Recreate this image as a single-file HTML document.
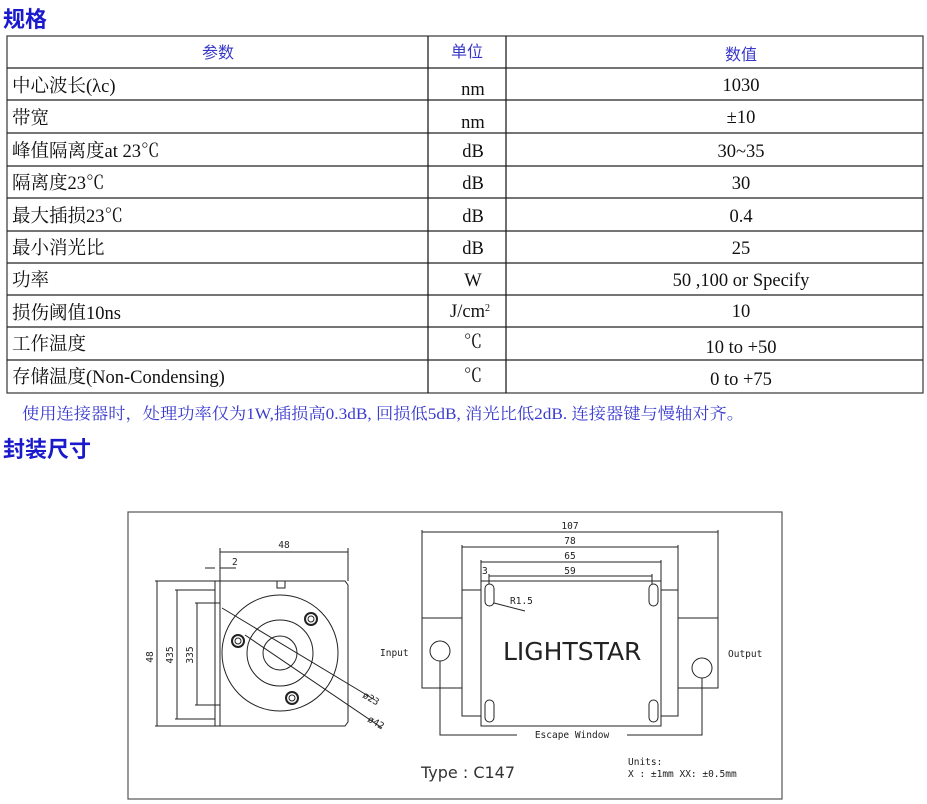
<!DOCTYPE html>
<html><head><meta charset="utf-8"><style>
html,body{margin:0;padding:0;background:#fff;}
svg{display:block;}
.s{font-family:"Liberation Serif","Noto Serif CJK SC",serif;font-size:18.5px;fill:#111;}
.h{font-family:"Liberation Serif","Noto Sans CJK SC",serif;font-size:16px;fill:#3838c8;}
.t{font-family:"Liberation Sans","Noto Sans CJK SC",sans-serif;font-size:22px;font-weight:bold;fill:#1a1acc;}
.d{font-family:"DejaVu Sans Mono","Liberation Mono",monospace;font-size:9.5px;fill:#222;}
</style></head><body>
<svg width="927" height="804" viewBox="0 0 927 804" xmlns="http://www.w3.org/2000/svg">
<text class="t" x="3" y="27">规格</text>
<g stroke="#222" stroke-width="1.3" fill="none">
<rect x="7" y="36" width="916" height="357" stroke="#444"/>
<line x1="428" y1="36" x2="428" y2="393"/>
<line x1="506" y1="36" x2="506" y2="393"/>
<line x1="7" y1="68" x2="923" y2="68"/><line x1="7" y1="100" x2="923" y2="100"/>
<line x1="7" y1="133" x2="923" y2="133"/><line x1="7" y1="166" x2="923" y2="166"/>
<line x1="7" y1="198" x2="923" y2="198"/><line x1="7" y1="231" x2="923" y2="231"/>
<line x1="7" y1="263" x2="923" y2="263"/><line x1="7" y1="295" x2="923" y2="295"/>
<line x1="7" y1="327" x2="923" y2="327"/><line x1="7" y1="360" x2="923" y2="360"/>
</g>
<text class="h" x="218" y="58" text-anchor="middle">参数</text>
<text class="h" x="467" y="57" text-anchor="middle">单位</text>
<text class="h" x="741" y="60" text-anchor="middle">数值</text>
<g class="s">
<text x="12" y="92">中心波长(λc)</text><text x="473" y="95" text-anchor="middle">nm</text><text x="741" y="91" text-anchor="middle">1030</text>
<text x="12" y="124">带宽</text><text x="473" y="128" text-anchor="middle">nm</text><text x="741" y="123" text-anchor="middle">±10</text>
<text x="12" y="157">峰值隔离度at 23℃</text><text x="473" y="157" text-anchor="middle">dB</text><text x="741" y="157" text-anchor="middle">30~35</text>
<text x="12" y="189">隔离度23℃</text><text x="473" y="189" text-anchor="middle">dB</text><text x="741" y="189" text-anchor="middle">30</text>
<text x="12" y="222">最大插损23℃</text><text x="473" y="222" text-anchor="middle">dB</text><text x="741" y="222" text-anchor="middle">0.4</text>
<text x="12" y="254">最小消光比</text><text x="473" y="254" text-anchor="middle">dB</text><text x="741" y="254" text-anchor="middle">25</text>
<text x="12" y="286">功率</text><text x="473" y="286" text-anchor="middle">W</text><text x="741" y="286" text-anchor="middle">50 ,100 or Specify</text>
<text x="12" y="319">损伤阈值10ns</text><text x="470" y="317" text-anchor="middle">J/cm<tspan font-size="10" dy="-6">2</tspan></text><text x="741" y="317" text-anchor="middle">10</text>
<text x="12" y="350">工作温度</text><text x="473" y="348" text-anchor="middle">℃</text><text x="741" y="353" text-anchor="middle">10 to +50</text>
<text x="12" y="383">存储温度(Non-Condensing)</text><text x="473" y="382" text-anchor="middle">℃</text><text x="741" y="385" text-anchor="middle">0 to +75</text>
</g>
<text x="22" y="419" textLength="722" lengthAdjust="spacingAndGlyphs" style="font-family:'Liberation Serif','Noto Serif CJK SC',serif;font-size:16px;fill:#3a3ad0">使用连接器时，处理功率仅为1W,插损高0.3dB, 回损低5dB, 消光比低2dB. 连接器键与慢轴对齐。</text>
<text class="t" x="3" y="457">封装尺寸</text>

<rect x="128" y="512" width="654" height="287" fill="none" stroke="#555" stroke-width="1.2"/>
<g stroke="#222" stroke-width="1" fill="none">
<path d="M220 581 H345 L348 585 V722 L345 726 H220 Z"/>
<rect x="215" y="581" width="5" height="145"/>
<line x1="215" y1="603" x2="220" y2="603"/><line x1="215" y1="705" x2="220" y2="705"/>
<rect x="277" y="581" width="8" height="7"/>
<circle cx="280" cy="653" r="58"/><circle cx="280" cy="653" r="33"/><circle cx="280" cy="653" r="17"/>
<circle cx="311" cy="619" r="6" stroke-width="2"/><circle cx="311" cy="619" r="3"/>
<circle cx="238" cy="641" r="6" stroke-width="2"/><circle cx="238" cy="641" r="3"/>
<circle cx="292" cy="698" r="6" stroke-width="2"/><circle cx="292" cy="698" r="3"/>
<line x1="222" y1="608" x2="375" y2="700"/><line x1="245" y1="635" x2="382" y2="728"/>
<line x1="220" y1="552" x2="348" y2="552"/><line x1="220" y1="548" x2="220" y2="581"/><line x1="348" y1="548" x2="348" y2="581"/>
<line x1="205" y1="568" x2="215" y2="568"/><line x1="220" y1="568" x2="236" y2="568"/><line x1="220" y1="568" x2="220" y2="581"/>
<line x1="157" y1="581" x2="157" y2="726"/><line x1="155" y1="581" x2="215" y2="581"/><line x1="155" y1="726" x2="215" y2="726"/>
<line x1="177" y1="590" x2="177" y2="719"/><line x1="175" y1="590" x2="215" y2="590"/><line x1="175" y1="719" x2="215" y2="719"/>
<line x1="197" y1="603" x2="197" y2="705"/><line x1="195" y1="603" x2="215" y2="603"/><line x1="195" y1="705" x2="215" y2="705"/>
<rect x="481" y="581" width="180" height="145"/>
<path d="M481 590 H462 V716 H481 M661 590 H678 V716 H661"/>
<rect x="422" y="618" width="40" height="70"/><rect x="678" y="618" width="40" height="70"/>
<circle cx="440" cy="651" r="10"/><circle cx="702" cy="668" r="10"/>
<rect x="485" y="584" width="9" height="22" rx="4.5"/><rect x="649" y="584" width="9" height="22" rx="4.5"/>
<rect x="485" y="700" width="9" height="22" rx="4.5"/><rect x="649" y="700" width="9" height="22" rx="4.5"/>
<path d="M440 661 V735 H517 M627 735 H702 V678"/>
<line x1="422" y1="532" x2="718" y2="532"/><line x1="422" y1="530" x2="422" y2="618"/><line x1="718" y1="530" x2="718" y2="618"/>
<line x1="462" y1="547" x2="678" y2="547"/><line x1="462" y1="545" x2="462" y2="590"/><line x1="678" y1="545" x2="678" y2="590"/>
<line x1="481" y1="562" x2="661" y2="562"/><line x1="481" y1="560" x2="481" y2="581"/><line x1="661" y1="560" x2="661" y2="581"/>
<line x1="489" y1="576" x2="652" y2="576"/><line x1="489" y1="574" x2="489" y2="584"/><line x1="652" y1="574" x2="652" y2="584"/>
<path d="M494 603 L525 611"/>
</g>
<g class="d">
<text x="284" y="548" text-anchor="middle">48</text>
<text x="232" y="565">2</text>
<text x="153" y="657" transform="rotate(-90 153 657)" text-anchor="middle">48</text>
<text x="173" y="655" transform="rotate(-90 173 655)" text-anchor="middle">435</text>
<text x="193" y="655" transform="rotate(-90 193 655)" text-anchor="middle">335</text>
<text x="362" y="697" transform="rotate(30 362 697)">ø23</text>
<text x="367" y="721" transform="rotate(30 367 721)">ø42</text>
<text x="380" y="656">Input</text>
<text x="728" y="657">Output</text>
<text x="570" y="529" text-anchor="middle">107</text>
<text x="570" y="544" text-anchor="middle">78</text>
<text x="570" y="559" text-anchor="middle">65</text>
<text x="570" y="574" text-anchor="middle">59</text>
<text x="482" y="574">3</text>
<text x="510" y="604">R1.5</text>
<text x="572" y="738" text-anchor="middle">Escape Window</text>
<text x="628" y="765">Units:</text>
<text x="628" y="777">X : ±1mm XX: ±0.5mm</text>
</g>
<text x="503" y="660" style="font-family:'DejaVu Sans','Liberation Sans',sans-serif;font-size:25px;fill:#222">LIGHTSTAR</text>
<text x="421" y="778" style="font-family:'DejaVu Sans','Liberation Sans',sans-serif;font-size:16px;fill:#333">Type : C147</text>
</svg>
</body></html>
